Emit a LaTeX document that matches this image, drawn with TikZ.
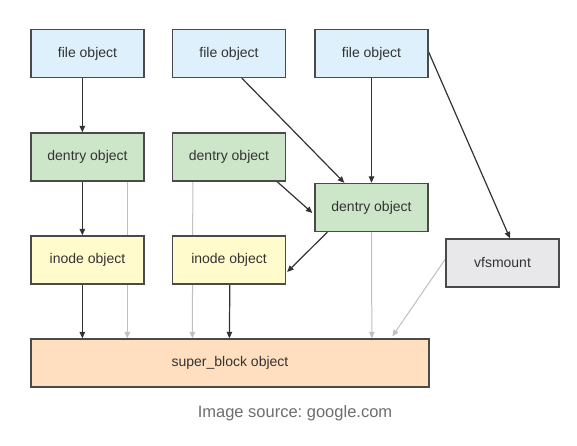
\documentclass[tikz,border=0pt]{standalone}
\usepackage{fontspec}
\setmainfont{Liberation Sans}
\usetikzlibrary{arrows.meta,calc,backgrounds}
\definecolor{fileC}{HTML}{DEF0FB}
\definecolor{dentC}{HTML}{CDE6CA}
\definecolor{inodeC}{HTML}{FFFBCC}
\definecolor{vfsC}{HTML}{E8E8EA}
\definecolor{superC}{HTML}{FFDFBF}
\definecolor{edgeC}{HTML}{4A4A4A}
\definecolor{darkC}{HTML}{333333}
\definecolor{lightC}{HTML}{C0C0C0}
\definecolor{capC}{HTML}{6E6E6E}
\frenchspacing
\begin{document}
\begin{tikzpicture}[x=1pt,y=-1pt,
  obox/.style={draw=edgeC, line width=1.3pt, minimum width=113pt, minimum height=48pt, inner sep=0pt,
    text=darkC, font=\fontsize{14}{16}\selectfont},
  darkarrow/.style={draw=darkC, line width=1.2pt, -{Triangle[length=6.5pt,width=5.5pt]}},
  lightarrow/.style={draw=lightC, line width=1pt, -{Triangle[length=6.5pt,width=5.5pt]}}
]
\useasboundingbox (0,0) rectangle (577,446);
% nodes
\node[obox, fill=fileC] (file1) at (87.5,53.5) {file object};
\node[obox, fill=fileC] (file2) at (229,53.5) {file object};
\node[obox, fill=fileC] (file3) at (371.5,53.5) {file object};
\node[obox, fill=dentC] (dent1) at (87.5,157) {dentry object};
\node[obox, fill=dentC] (dent2) at (229,157) {dentry object};
\node[obox, fill=dentC] (dent3) at (371.5,207.5) {dentry object};
\node[obox, fill=inodeC] (inode1) at (87.5,260) {inode object};
\node[obox, fill=inodeC] (inode2) at (229,260) {inode object};
\node[obox, fill=vfsC] (vfs) at (502.5,263) {vfsmount};
\node[obox, fill=superC, minimum width=398pt] (super) at (230,363) {super\_block object};
\node[text=capC, font=\fontsize{16.5}{19}\selectfont] (cap) at (295,413) {Image source: google.com};
% connectors
\begin{scope}[on background layer]
\fill[white] (0,0) rectangle (577,446);
\draw[darkarrow] ($(file1.south west)+(52,0)$) -- ($(dent1.north west)+(52,0)$);
\draw[darkarrow] ($(file2.south west)+(70,0)$) -- ($(dent3.north west)+(30,0)$);
\draw[darkarrow] (file3.south) -- (dent3.north);
\draw[darkarrow] ($(file3.east)+(0,-1.5)$) -- ($(vfs.north)+(7.5,0)$);
\draw[darkarrow] ($(dent2.south east)+(-9,0)$) -- ($(dent3.west)+(-2,5.5)$);
\draw[darkarrow] ($(dent1.south west)+(52,0)$) -- ($(inode1.north west)+(52,0)$);
\draw[lightarrow] ($(dent1.south west)+(97,0)$) -- ($(super.north west)+(97,0)$);
\draw[lightarrow] ($(dent2.south west)+(21,0)$) -- ($(super.north west)+(162,0)$);
\draw[darkarrow] ($(dent3.south west)+(13,0)$) -- ($(inode2.east)+(1,12)$);
\draw[darkarrow] ($(inode1.south west)+(52,0)$) -- ($(super.north west)+(52,0)$);
\draw[darkarrow] ($(inode2.south west)+(58,0)$) -- ($(super.north west)+(199,0)$);
\draw[lightarrow] (dent3.south) -- ($(super.north west)+(341.5,0)$);
\draw[lightarrow] ($(vfs.west)+(0,-4)$) -- ($(super.north west)+(362,-2)$);
\end{scope}
\end{tikzpicture}
\end{document}
